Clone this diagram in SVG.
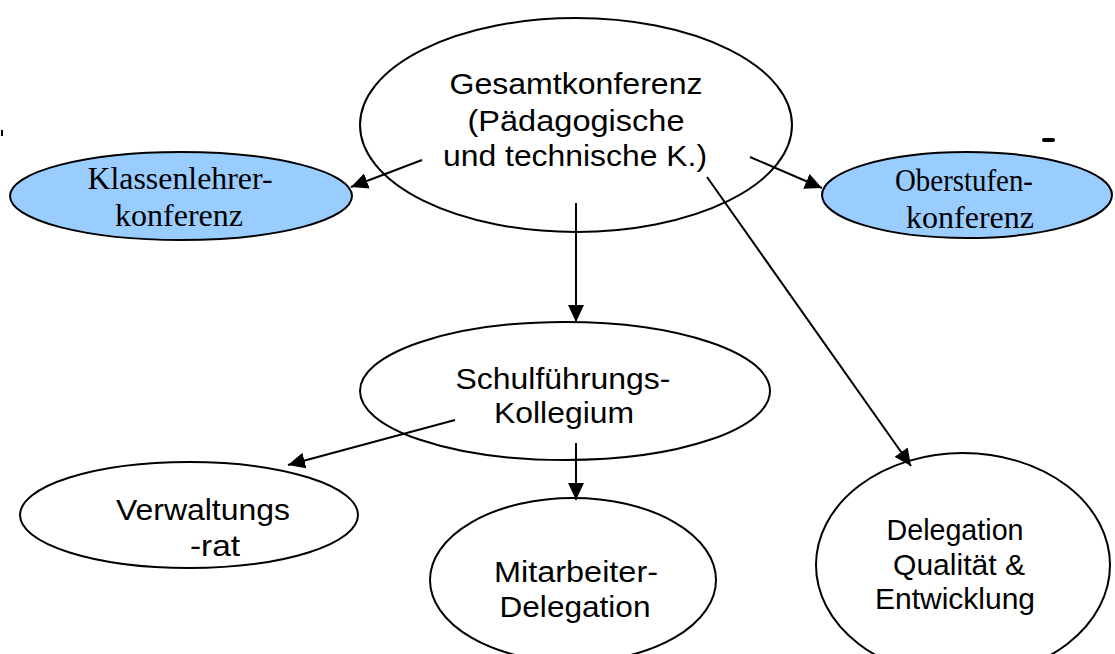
<svg xmlns="http://www.w3.org/2000/svg" width="1115" height="654" viewBox="0 0 1115 654">
<style>
.n{fill:#fff;stroke:#000;stroke-width:2}
.b{fill:#99ccff;stroke:#000;stroke-width:2}
.s{font-family:"Liberation Sans",Arial,sans-serif;font-size:30px;fill:#000;text-anchor:middle}
.t{font-family:"Liberation Serif","Times New Roman",serif;font-size:31px;fill:#000;text-anchor:middle}
.c{stroke:#000;stroke-width:2;fill:none;marker-end:url(#ah)}
</style>
<defs>
<marker id="ah" viewBox="0 0 17 16" refX="17" refY="8" markerWidth="17" markerHeight="16" markerUnits="userSpaceOnUse" orient="auto">
<path d="M0,0L17,8L0,16z" fill="#000"/>
</marker>
</defs>
<rect x="0" y="0" width="1115" height="654" fill="#fff"/>
<rect x="1" y="130" width="2" height="6" fill="#000"/>
<rect x="1042" y="138" width="13" height="4" rx="2" fill="#000"/>
<g id="gesamt">
<ellipse class="n" cx="576" cy="125" rx="216" ry="107"/>
<text class="s" x="576" y="94" textLength="253" lengthAdjust="spacingAndGlyphs">Gesamtkonferenz</text>
<text class="s" x="576" y="131" textLength="217" lengthAdjust="spacingAndGlyphs">(Pädagogische</text>
<text class="s" x="575" y="166" textLength="264" lengthAdjust="spacingAndGlyphs">und technische K.)</text>
</g>
<g id="klassen">
<ellipse class="b" cx="181" cy="196" rx="171" ry="44"/>
<text class="t" x="180" y="189" textLength="185" lengthAdjust="spacingAndGlyphs">Klassenlehrer-</text>
<text class="t" x="179" y="226" textLength="128" lengthAdjust="spacingAndGlyphs">konferenz</text>
</g>
<g id="oberstufen">
<ellipse class="b" cx="967" cy="195" rx="145" ry="43"/>
<text class="t" x="964" y="191" textLength="138" lengthAdjust="spacingAndGlyphs">Oberstufen-</text>
<text class="t" x="970" y="228" textLength="128" lengthAdjust="spacingAndGlyphs">konferenz</text>
</g>
<g id="schulf">
<ellipse class="n" cx="565" cy="391" rx="205" ry="69"/>
<text class="s" x="563" y="389" textLength="215" lengthAdjust="spacingAndGlyphs">Schulführungs-</text>
<text class="s" x="564" y="423" textLength="140" lengthAdjust="spacingAndGlyphs">Kollegium</text>
</g>
<g id="verwaltung">
<ellipse class="n" cx="189" cy="515" rx="169" ry="53"/>
<text class="s" x="203" y="520" textLength="174" lengthAdjust="spacingAndGlyphs">Verwaltungs</text>
<text class="s" x="215" y="556" textLength="50" lengthAdjust="spacingAndGlyphs">-rat</text>
</g>
<g id="mitarbeiter">
<ellipse class="n" cx="573" cy="580" rx="143" ry="82"/>
<text class="s" x="576" y="582" textLength="164" lengthAdjust="spacingAndGlyphs">Mitarbeiter-</text>
<text class="s" x="575" y="617" textLength="151" lengthAdjust="spacingAndGlyphs">Delegation</text>
</g>
<g id="delegation">
<ellipse class="n" cx="963" cy="565" rx="147" ry="112"/>
<text class="s" x="955" y="540" textLength="137" lengthAdjust="spacingAndGlyphs">Delegation</text>
<text class="s" x="959" y="575" textLength="132" lengthAdjust="spacingAndGlyphs">Qualität &amp;</text>
<text class="s" x="955" y="609" textLength="160" lengthAdjust="spacingAndGlyphs">Entwicklung</text>
</g>
<g id="connectors">
<line class="c" x1="422" y1="160" x2="351" y2="187"/>
<line class="c" x1="750" y1="157" x2="822" y2="188"/>
<line class="c" x1="576" y1="203" x2="576" y2="322"/>
<line class="c" x1="707" y1="177" x2="911" y2="466"/>
<line class="c" x1="455" y1="420" x2="288" y2="465"/>
<line class="c" x1="576" y1="443" x2="576" y2="500"/>
</g>
</svg>
